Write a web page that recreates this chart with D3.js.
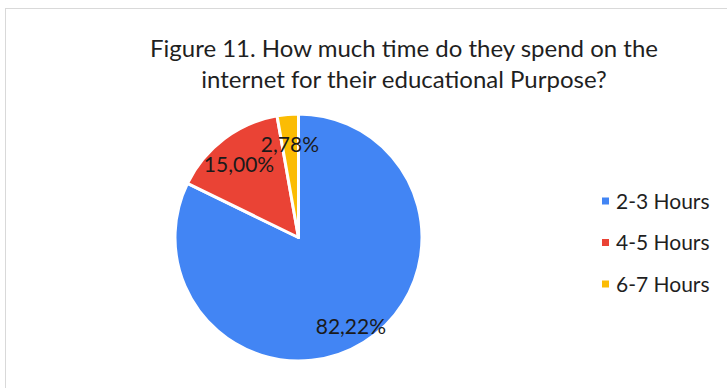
<!DOCTYPE html>
<html>
<head>
<meta charset="utf-8">
<script src="https://cdn.jsdelivr.net/npm/d3@7"></script>
<style>
  html, body { margin: 0; padding: 0; background: #fff; }
  svg { display: block; font-family: Lato, "Open Sans", sans-serif; }
</style>
</head>
<body>
<svg id="chart" width="727" height="388"></svg>
<script>
// Time spent on the internet for educational purposes
const categories = ["2-3 Hours", "4-5 Hours", "6-7 Hours"];
const values = [82.22, 15.00, 2.78];
const colors = ["#4285F4", "#EA4335", "#FBBC04"];
const titleLines = [
  "Figure 11. How much time do they spend on the",
  "internet for their educational Purpose?"
];

const svg = d3.select("#chart");
const W = 727, H = 388;

// panel border (top and left edges visible)
svg.append("rect")
  .attr("x", 5.5).attr("y", 8.5)
  .attr("width", W + 10).attr("height", H + 10)
  .attr("fill", "#fff")
  .attr("stroke", "#d9d9d9").attr("stroke-width", 1);

// title
svg.append("g").selectAll("text")
  .data(titleLines)
  .join("text")
  .attr("x", 404)
  .attr("y", (d, i) => 56.5 + i * 31.5)
  .attr("text-anchor", "middle")
  .attr("font-size", 24)
  .attr("fill", "#1f1f1f")
  .text(d => d);

// pie
const cx = 298.5, cy = 237.5, R = 123.5;
const data = categories.map((c, i) => ({ cat: c, value: values[i], color: colors[i] }));
const pie = d3.pie().sort(null).value(d => d.value);
const arcs = pie(data);
const arc = d3.arc().innerRadius(0).outerRadius(R);
const labelArc = d3.arc().innerRadius(R * 0.8).outerRadius(R * 0.8);

const g = svg.append("g").attr("transform", `translate(${cx},${cy})`);
g.selectAll("path")
  .data(arcs)
  .join("path")
  .attr("d", arc)
  .attr("fill", d => d.data.color)
  .attr("stroke", "#fff")
  .attr("stroke-width", 3)
  .attr("stroke-linejoin", "round");

const fmt = v => v.toFixed(2).replace(".", ",") + "%";
g.selectAll("text.lbl")
  .data(arcs)
  .join("text")
  .attr("class", "lbl")
  .attr("transform", d => `translate(${labelArc.centroid(d)})`)
  .attr("text-anchor", "middle")
  .attr("dy", "0.62em")
  .attr("font-size", 21)
  .attr("fill", "#1a1a1a")
  .text(d => fmt(d.data.value));

// legend
const legend = svg.append("g").attr("transform", "translate(602,201)");
const item = legend.selectAll("g")
  .data(data)
  .join("g")
  .attr("transform", (d, i) => `translate(0,${i * 41.5})`);
item.append("rect")
  .attr("x", 0).attr("y", -3.5)
  .attr("width", 7).attr("height", 7)
  .attr("fill", d => d.color);
item.append("text")
  .attr("x", 14)
  .attr("dy", "0.36em")
  .attr("font-size", 21)
  .attr("fill", "#1f1f1f")
  .text(d => d.cat);
</script>
</body>
</html>
